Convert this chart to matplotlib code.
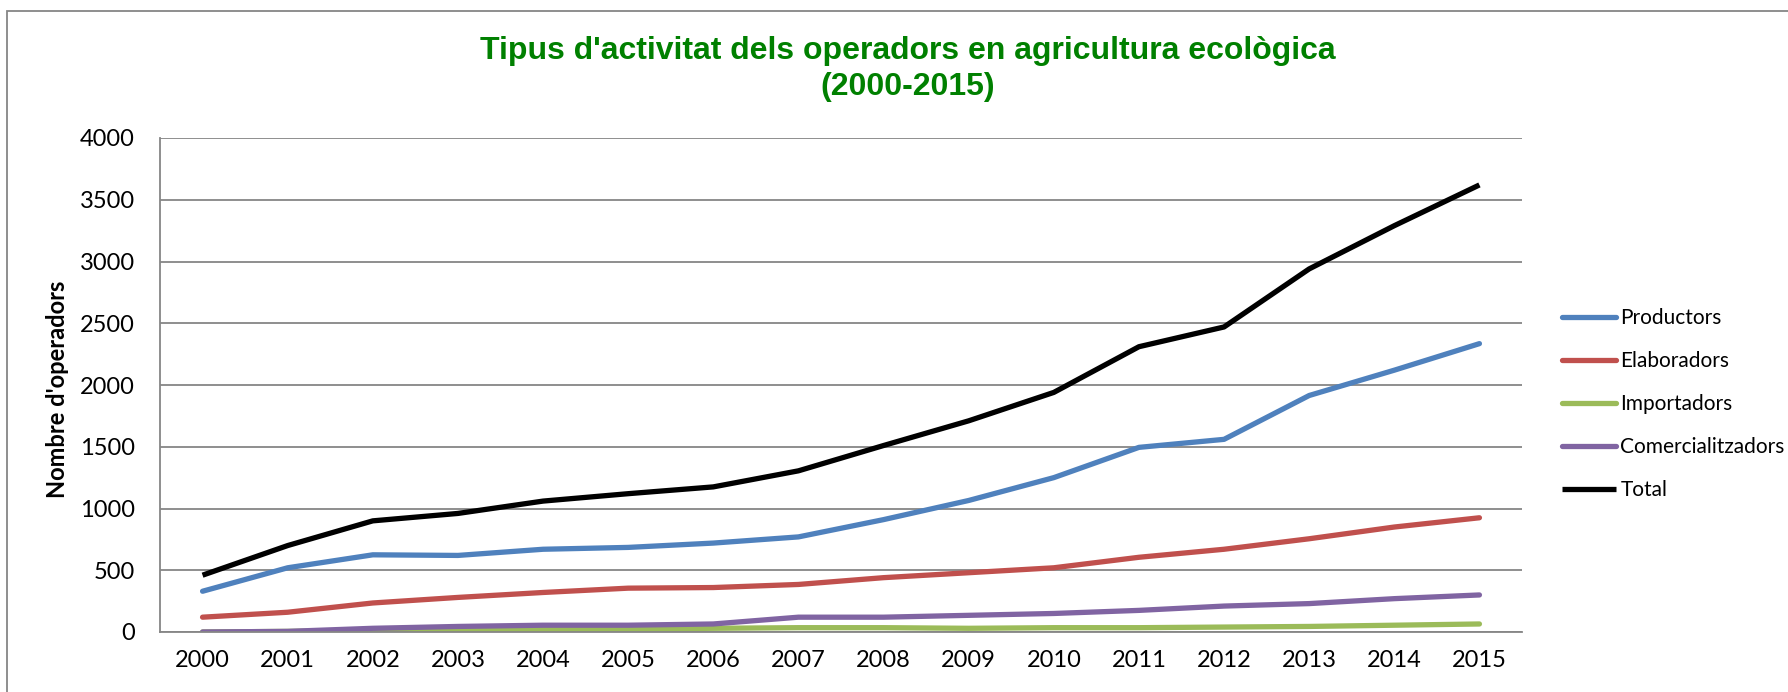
import matplotlib
matplotlib.use("Agg")
import matplotlib.pyplot as plt
from matplotlib.patches import Rectangle

plt.rcParams['font.family'] = ['Lato', 'DejaVu Sans']

years = ['2000', '2001', '2002', '2003', '2004', '2005', '2006', '2007',
         '2008', '2009', '2010', '2011', '2012', '2013', '2014', '2015']

productors = [330, 520, 625, 620, 670, 685, 720, 770,
              910, 1065, 1250, 1495, 1560, 1915, 2120, 2335]
elaboradors = [120, 160, 235, 280, 320, 355, 360, 385,
               440, 480, 520, 605, 670, 755, 850, 925]
importadors = [0, 5, 15, 20, 20, 25, 30, 35,
               35, 30, 35, 35, 40, 45, 55, 65]
comercialitzadors = [0, 5, 30, 45, 55, 55, 65, 120,
                     120, 135, 150, 175, 210, 230, 270, 300]
total = [460, 700, 900, 960, 1060, 1120, 1175, 1305,
         1510, 1710, 1940, 2310, 2470, 2940, 3290, 3620]

series = [
    ("Productors", productors, "#4F81BD"),
    ("Elaboradors", elaboradors, "#C0504D"),
    ("Importadors", importadors, "#9BBB59"),
    ("Comercialitzadors", comercialitzadors, "#8064A2"),
    ("Total", total, "#000000"),
]

fig = plt.figure(figsize=(17.88, 6.92), dpi=100)
ax = fig.add_axes([160 / 1788, 1 - 632 / 692, (1522 - 160) / 1788, (632 - 138) / 692])

x = list(range(len(years)))
for name, vals, col in series:
    cap = "butt" if name == "Total" else "round"
    ax.plot(x, vals, color=col, lw=3.8, label=name, solid_capstyle=cap,
            solid_joinstyle="round")

ax.set_xlim(-0.5, len(years) - 0.5)
ax.set_ylim(0, 4000)
ax.set_yticks(range(0, 4001, 500))
ax.set_xticks(x)
ax.set_xticklabels(years)
ax.tick_params(length=0, labelsize=17)
ax.tick_params(axis='x', pad=13)
ax.tick_params(axis='y', pad=18)
ax.grid(axis='y', color='#868686', lw=1.3)
ax.set_axisbelow(True)
for s in ['top', 'right']:
    ax.spines[s].set_visible(False)
for s in ['left', 'bottom']:
    ax.spines[s].set_color('#868686')
    ax.spines[s].set_linewidth(1.3)

fig.text(58 / 1788, 1 - 389 / 692, "Nombre d'operadors", rotation=90,
         fontsize=17, fontweight='bold', ha='center', va='center')

fig.text(908 / 1788, 1 - 51 / 692, "Tipus d'activitat dels operadors en agricultura ecològica",
         fontsize=23, fontweight='bold', color='#008000', ha='center', va='center',
         family='Liberation Sans')
fig.text(908 / 1788, 1 - 87 / 692, "(2000-2015)",
         fontsize=23, fontweight='bold', color='#008000', ha='center', va='center',
         family='Liberation Sans')

fig.legend(loc='center left', bbox_to_anchor=(1562 / 1788, 1 - 404 / 692),
           frameon=False, fontsize=15, handlelength=2.6, handletextpad=0.2,
           labelspacing=1.1, borderpad=0, borderaxespad=0)

fig.patches.append(Rectangle((7 / 1788, -0.1), 1.2, (692 - 11) / 692 + 0.1,
                             transform=fig.transFigure, fill=False,
                             edgecolor='#868686', lw=1.3))

fig.savefig("out.png", dpi=100)
